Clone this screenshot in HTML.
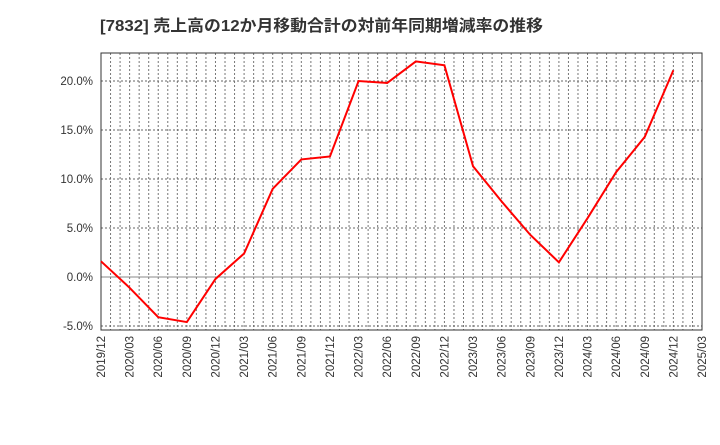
<!DOCTYPE html>
<html><head><meta charset="utf-8"><style>
body{margin:0;background:#fff;}
svg text{font-family:"Liberation Sans","Noto Sans CJK JP",sans-serif;}
</style></head><body>
<svg id="c" width="720" height="440">
<text x="100" y="31" font-size="16" font-weight="bold" fill="#333" textLength="443" lengthAdjust="spacingAndGlyphs">[7832]  売上高の12か月移動合計の対前年同期増減率の推移</text>
</svg>
<script>
const categories=["2019/12","2020/03","2020/06","2020/09","2020/12","2021/03","2021/06","2021/09","2021/12","2022/03","2022/06","2022/09","2022/12","2023/03","2023/06","2023/09","2023/12","2024/03","2024/06","2024/09","2024/12","2025/03"];
const values=[1.6,-1.1,-4.1,-4.6,-0.2,2.4,9.0,12.0,12.3,20.0,19.8,22.0,21.6,11.3,7.7,4.3,1.5,6.0,10.7,14.3,21.1];
const yTicks=[-5,0,5,10,15,20];
const L=101,R=702,T=53,B=330;
const x=i=>L+(R-L)*i/(categories.length-1);
const y=v=>277-v*9.8;
const svg=document.getElementById('c');const ns='http://www.w3.org/2000/svg';
function mk(t,a){const e=document.createElementNS(ns,t);for(const k in a)e.setAttribute(k,a[k]);svg.appendChild(e);return e;}
for(let m=1;m<(categories.length-1)*3;m++){const xx=L+(R-L)*m/((categories.length-1)*3);
const g=mk('line',{x1:xx,x2:xx,y1:T,y2:B,stroke:'#777','stroke-dasharray':'2,2','stroke-width':1});

}
yTicks.forEach(v=>{const g=mk('line',{x1:L,x2:R,y1:y(v),y2:y(v),stroke:'#666','stroke-dasharray':'2,2','stroke-width':1});


const t=mk('text',{x:L-8,y:y(v)+4,'text-anchor':'end','font-size':11.5,fill:'#333'});t.textContent=v.toFixed(1)+'%';

});
const z=mk('line',{x1:L,x2:R,y1:y(0),y2:y(0),stroke:'#888','stroke-width':1});


const f=mk('rect',{x:L,y:T,width:R-L,height:B-T,fill:'none',stroke:'#333','stroke-width':1});


categories.forEach((c,i)=>{const t=mk('text',{x:0,y:0,'font-size':11.5,fill:'#333','text-anchor':'end',transform:`translate(${x(i)+4},${B+6}) rotate(-90)`});t.textContent=c;

});
const p=mk('polyline',{points:values.map((v,i)=>x(i)+','+y(v)).join(' '),fill:'none',stroke:'#f00','stroke-width':2});


</script>
</body></html>
